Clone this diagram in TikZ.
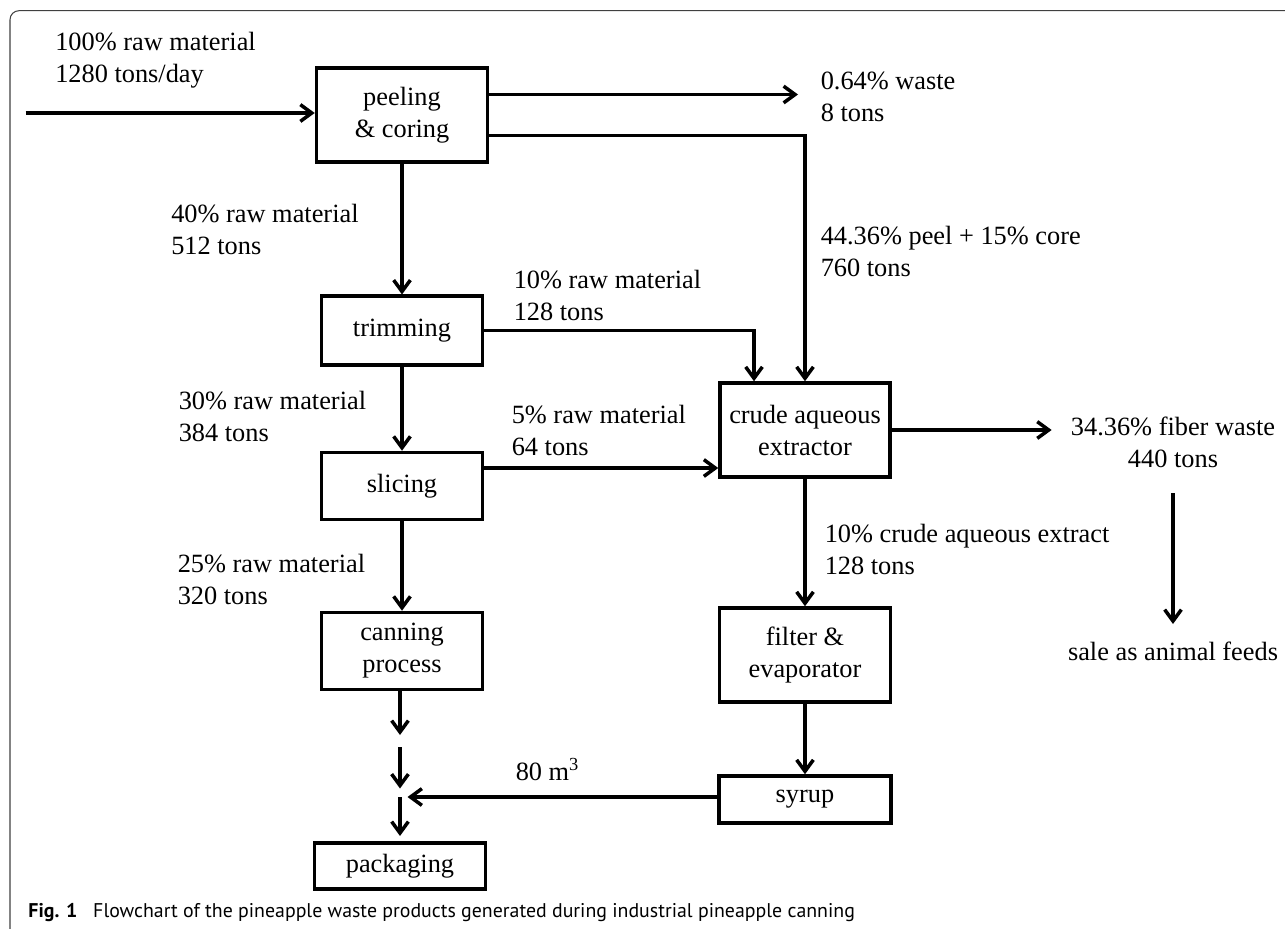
\documentclass[tikz,border=0pt]{standalone}
\usepackage{fontspec}
\setmainfont{Liberation Serif}
\newfontfamily\capfont{PT Sans}
\usepackage{tikz}
\usetikzlibrary{arrows.meta}

\begin{document}
\begin{tikzpicture}[x=0.02cm,y=-0.02cm,->,>={Straight Barb[length=6.5pt,width=9.5pt]},
                    line width=2pt,
                    main node/.style={rectangle,draw,align=center,inner sep=0pt,font=\fontsize{15}{18.2}\selectfont},
                    flow node/.style={align=left,inner sep=0pt,anchor=north west,font=\fontsize{15}{18.2}\selectfont}]

  \useasboundingbox (0,0) rectangle (1285,929);
  \draw[-,line width=0.6pt,black!75,rounded corners=0.18cm] (10,929) -- (10,10.7) -- (1285,10.7);

  \node[main node,minimum width=3.42cm,minimum height=1.89cm] (1) at (402,115) {peeling\\\& coring};
  \node[main node,minimum width=3.22cm,minimum height=1.37cm] (2) at (402,330.5) {trimming};
  \node[main node,minimum width=3.22cm,minimum height=1.34cm] (3) at (402,486) {slicing};
  \node[main node,minimum width=3.22cm,minimum height=1.54cm] (4) at (402,651) {canning\\process};
  \node[main node,minimum width=3.42cm,minimum height=0.93cm] (5) at (400,866) {packaging};
  \node[main node,minimum width=3.40cm,minimum height=1.88cm] (6) at (805,430) {crude aqueous\\extractor};
  \node[main node,minimum width=3.42cm,minimum height=1.88cm] (7) at (805,655) {filter \&\\evaporator};
  \node[main node,minimum width=3.44cm,minimum height=0.94cm] (8) at (805,799.5) {syrup};

  \node[flow node] (inlbl) at (53.5,30.3) {100\% raw material\\1280 tons/day};
  \node[flow node] (wastelbl) at (819,70.3) {0.64\% waste\\8 tons};
  \node[flow node] (corelbl) at (819,224.7) {44.36\% peel + 15\% core\\760 tons};
  \node[flow node] (peellbl) at (169.5,202.7) {40\% raw material\\512 tons};
  \node[flow node] (trimlbl) at (512,268.7) {10\% raw material\\128 tons};
  \node[flow node] (slicelbl) at (177,389) {30\% raw material\\384 tons};
  \node[flow node] (sidelbl) at (510,403.7) {5\% raw material\\64 tons};
  \node[flow node] (canlbl) at (176,552) {25\% raw material\\320 tons};
  \node[flow node] (extrlbl) at (823,522.7) {10\% crude aqueous extract\\128 tons};
  \node[flow node,align=center,anchor=north] (fiber) at (1173,415) {34.36\% fiber waste\\440 tons};
  \node[flow node,anchor=north] (sale) at (1173,640) {sale as animal feeds};
  \node[flow node] (syruplbl) at (514,757) {80 m\textsuperscript{3}};

  \coordinate (in) at (25.5,113);
  \coordinate (gapA) at (400,741);
  \coordinate (mix) at (400,797);

  \path (1) edge (2)
        (2) edge (3)
        (3) edge (4)
        (6) edge (7)
        (7) edge (8);

  \draw (in) -- (in -| 1.west);
  \draw[shorten >=0.42cm] ([yshift=0.41cm]1.east) -- ([yshift=0.41cm]1.east -| wastelbl.west);
  \draw ([yshift=-0.41cm]1.east) -| (6.north);
  \draw (2.east) -| ([xshift=-1.02cm]6.north);
  \draw ([yshift=0.36cm]3.east) -- ([yshift=0.36cm]3.east -| 6.west);
  \draw[shorten >=0.35cm] (6.east) -- (6.east -| fiber.west);
  \draw[shorten <=0.48cm,shorten >=0.32cm] (fiber.south) -- (sale.north);
  \draw (4.south -| gapA) -- ([yshift=0.12cm]gapA);
  \draw ([yshift=-0.12cm]gapA) -- ([yshift=0.17cm]mix);
  \draw[shorten >=0.1cm] (mix) -- (5.north);
  \draw (8.west |- mix) -- ([xshift=0.15cm]mix);

  \node[anchor=west,inner sep=0pt,font=\capfont\fontsize{11.3}{13}\selectfont] (title) at (26.7,913)
    {\textbf{Fig. 1}\hspace{0.8em}Flowchart of the pineapple waste products generated during industrial pineapple canning};

\end{tikzpicture}
\end{document}
